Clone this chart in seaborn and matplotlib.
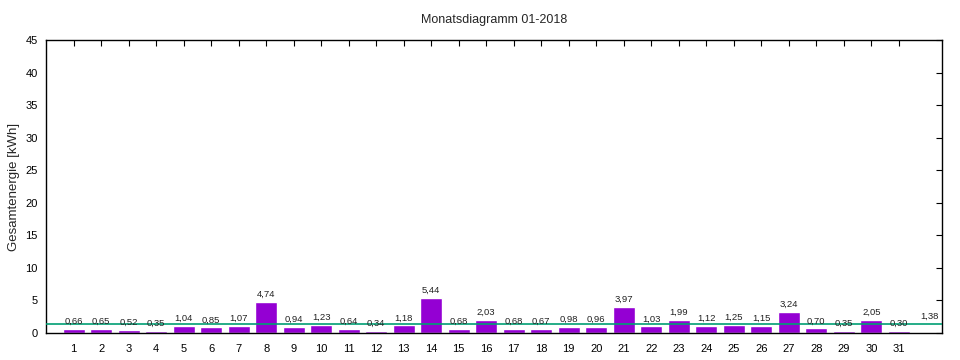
import matplotlib

matplotlib.use("Agg")

import matplotlib.pyplot as plt
import pandas as pd
import seaborn as sns

days = list(range(1, 32))
energy = [0.66, 0.65, 0.52, 0.35, 1.04, 0.85, 1.07, 4.74, 0.94, 1.23, 0.64,
          0.34, 1.18, 5.44, 0.68, 2.03, 0.68, 0.67, 0.98, 0.96, 3.97, 1.03,
          1.99, 1.12, 1.25, 1.15, 3.24, 0.70, 0.35, 2.05, 0.30]
average = 1.38
y_ticks = [0, 5, 10, 15, 20, 25, 30, 35, 40, 45]

BAR = "#9400d3"
LINE = "#009e73"

sns.set_style("white")
plt.rcParams["font.family"] = ["Liberation Sans", "DejaVu Sans"]

df = pd.DataFrame({"day": days, "kwh": energy})

fig = plt.figure(figsize=(9.6, 3.6), dpi=100)
ax = fig.add_axes([0.048, 0.075, 0.933, 0.814])

sns.barplot(data=df, x="day", y="kwh", native_scale=True, color=BAR,
            saturation=1, width=0.8, ax=ax)
ax.axhline(average, color=LINE, lw=1.2, zorder=3)

fmt = lambda v: f"{v:.2f}".replace(".", ",")
for d, v in zip(days, energy):
    ax.text(d, v + 0.45, fmt(v), ha="center", va="bottom", fontsize=6.8,
            color="#222222", zorder=4)
ax.text(32.1, average + 0.45, fmt(average), ha="center", va="bottom",
        fontsize=6.8, color="#222222")

ax.set_xlim(0, 32.56)
ax.set_ylim(0, 45)
ax.set_xticks(days)
ax.set_xticklabels([str(d) for d in days])
ax.set_yticks(y_ticks)
ax.tick_params(direction="in", length=4, width=0.8, top=True, right=True,
               labelsize=8, pad=6, colors="black")
ax.tick_params(axis="x", pad=8)
for s in ax.spines.values():
    s.set_color("black")
    s.set_linewidth(1)

ax.set_xlabel("")
ax.set_ylabel("Gesamtenergie [kWh]", fontsize=9.5)
ax.yaxis.set_label_coords(-0.029, 0.5)
ax.set_title("Monatsdiagramm 01-2018", fontsize=9, pad=12)

fig.savefig("out.png", dpi=100, facecolor="white")
